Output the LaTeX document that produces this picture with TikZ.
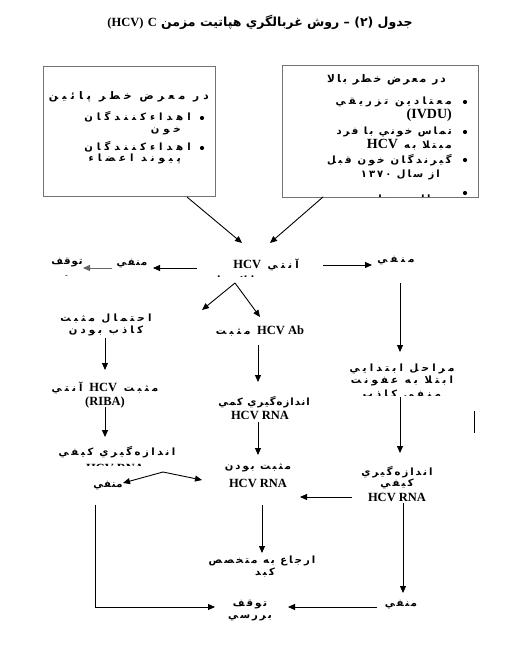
\documentclass[tikz,border=0pt]{standalone}
\usepackage{fontspec}
\setmainfont{Liberation Serif}
\usetikzlibrary{arrows.meta}
\TeXXeTstate=1
\newfontfamily\faA[Script=Arabic,LetterSpace=5]{DejaVu Sans}
\newfontfamily\faB[Script=Arabic,LetterSpace=10]{DejaVu Sans}
\newfontfamily\faC[Script=Arabic,LetterSpace=15]{DejaVu Sans}
\newfontfamily\faD[Script=Arabic,LetterSpace=20]{DejaVu Sans}
\newfontfamily\faE[Script=Arabic,LetterSpace=25]{DejaVu Sans}
\newfontfamily\faF[Script=Arabic,LetterSpace=32]{DejaVu Sans}
\newfontfamily\faG[Script=Arabic,LetterSpace=40]{DejaVu Sans}
\newfontfamily\fat[Script=Arabic]{DejaVu Sans}
\newcommand\rtl[1]{\beginR #1\endR}
\newcommand\ltr[1]{\beginL #1\endL}
\newcommand\la[1]{{\rmfamily\bfseries\fontsize{12.5}{14}\selectfont\beginL #1\endL}}
\newcommand\lab[1]{{\rmfamily\bfseries\fontsize{14}{15}\selectfont\beginL #1\endL}}
\begin{document}
\begin{tikzpicture}[x=1pt,y=-1pt,
  fa/.style={font=\faF\bfseries\fontsize{10}{11}\selectfont, inner sep=0pt},
  fa5/.style={font=\faA\bfseries\fontsize{10}{11}\selectfont, inner sep=0pt},
  fa10/.style={font=\faB\bfseries\fontsize{10}{11}\selectfont, inner sep=0pt},
  fa15/.style={font=\faC\bfseries\fontsize{10}{11}\selectfont, inner sep=0pt},
  fa20/.style={font=\faD\bfseries\fontsize{10}{11}\selectfont, inner sep=0pt},
  fa25/.style={font=\faE\bfseries\fontsize{10}{11}\selectfont, inner sep=0pt},
  fa40/.style={font=\faG\bfseries\fontsize{10}{11}\selectfont, inner sep=0pt},
  hdl/.style={font=\faG\bfseries\fontsize{10.5}{12}\selectfont, inner sep=0pt},
  hdr/.style={font=\faD\bfseries\fontsize{10.5}{12}\selectfont, inner sep=0pt},
  arr/.style={-{Triangle[length=7pt,width=6pt]}, line width=0.9pt},
  plain/.style={line width=0.9pt},
  box/.style={draw=black!55, line width=0.9pt},
  dot/.style={fill=black, circle, inner sep=0pt, minimum size=4.2pt}]
\useasboundingbox (0,0) rectangle (519,645);

% title
\node[font=\fat\bfseries\fontsize{12.5}{14}\selectfont, inner sep=0pt] (title) at (260,22)
  {\rtl{جدول \ltr{(۲)} – روش غربالگري هپاتيت مزمن \la{C} \la{(HCV)}}};

% boxes
\node[box, minimum width=172pt, minimum height=130pt, inner sep=0pt] (boxL) at (129,131) {};
\node[box, minimum width=196pt, minimum height=132pt, inner sep=0pt] (boxR) at (380,131) {};

% left box contents
\node[hdl, anchor=east] (hdrL) at (209,97) {\rtl{در معرض خطر پائين}};
\node[dot] (bL1) at (202,118) {};
\node[dot] (bL2) at (202,148) {};
\node[fa40, anchor=east] (L1a) at (191,117) {\rtl{اهداءكنندگان}};
\node[fa40, anchor=east] (L1b) at (181,131) {\rtl{خون}};
\node[fa40, anchor=east] (L2a) at (191,147) {\rtl{اهداءكنندگان}};
\node[fa40, anchor=east] (L2b) at (181,159) {\rtl{پيوند اعضاء}};

% right box contents
\node[hdr, anchor=east] (hdrR) at (446,80) {\rtl{در معرض خطر بالا}};
\node[dot] (bR1) at (465,102) {};
\node[dot] (bR2) at (465,132) {};
\node[dot] (bR3) at (465,160) {};
\node[dot] (bR4) at (465,193) {};
\node[fa, anchor=east] (R1a) at (452,102) {\rtl{معتادين تزريقي}};
\node[fa, anchor=east] (R1b) at (452,115) {\lab{(IVDU)}};
\node[fa20, anchor=east] (R2a) at (452,132) {\rtl{تماس خوني با فرد}};
\node[fa25, anchor=east] (R2b) at (452,145) {\rtl{مبتلا به \lab{HCV}}};
\node[fa25, anchor=east] (R3a) at (452,160) {\rtl{گيرندگان خون قبل}};
\node[fa20, anchor=east] (R3b) at (440,175) {\rtl{از سال \ltr{۱۳۷۰}}};
\begin{scope}
  \clip (300,184) rectangle (455,196);
  \node[fa25, anchor=east] (R4a) at (445,200) {\rtl{دياليزي‌ها}};
\end{scope}

% flow nodes
\node[fa] (anti) at (266,265) {\rtl{آنتي \la{HCV}}};
\begin{scope}
  \clip (200,271) rectangle (330,276);
  \node[fa] (antiB) at (265,281) {\rtl{به روش الايزا}};
\end{scope}
\node[fa] (negR) at (396,261) {\rtl{منفي}};
\node[fa10] (negL) at (132,264) {\rtl{منفي}};
\node[fa10] (stopL) at (67,263) {\rtl{توقف}};
\begin{scope}
  \clip (40,271) rectangle (100,275);
  \node[fa10] (stopLB) at (67,279) {\rtl{بررسي}};
\end{scope}
\node[fa] (fp1) at (106,319) {\rtl{احتمال مثبت}};
\node[fa] (fp2) at (106,331) {\rtl{كاذب بودن}};
\node[fa] (ab) at (260,331) {\rtl{\la{HCV Ab} مثبت}};
\node[fa] (early1) at (402,369) {\rtl{مراحل ابتدايي}};
\node[fa] (early2) at (402,381) {\rtl{ابتلا به عفونت}};
\begin{scope}
  \clip (330,386) rectangle (480,395);
  \node[fa] (early3) at (402,395) {\rtl{منفي كاذب}};
\end{scope}
\node[fa] (riba1) at (105,388) {\rtl{مثبت \la{HCV} آنتي}};
\node[fa] (riba2) at (105,402) {\la{(RIBA)}};
\node[fa10] (qty1) at (264,402) {\rtl{اندازه‌گيري كمي}};
\node[fa] (qty2) at (260,415) {\la{HCV RNA}};
\node[fa25] (qualL1) at (117,452) {\rtl{اندازه‌گيري كيفي}};
\begin{scope}
  \clip (50,458) rectangle (170,465);
  \node[fa] (qualL2) at (115,468) {\la{HCV RNA}};
\end{scope}
\node[fa5] (negL2) at (108,486) {\rtl{منفي}};
\node[fa20] (pos1) at (258,468) {\rtl{مثبت بودن}};
\node[fa] (pos2) at (258,483) {\la{HCV RNA}};
\node[fa20] (qualR1) at (397,472) {\rtl{اندازه‌گيري}};
\node[fa20] (qualR2) at (397,484) {\rtl{كيفي}};
\node[fa] (qualR3) at (397,497) {\la{HCV RNA}};
\node[fa20] (refer1) at (262,561) {\rtl{ارجاع به متخصص}};
\node[fa20] (refer2) at (265,573) {\rtl{كبد}};
\node[fa20] (stop1) at (250,605) {\rtl{توقف}};
\node[fa20] (stop2) at (250,618) {\rtl{بررسي}};
\node[fa15] (negB) at (401,605) {\rtl{منفي}};

% connector end points
\coordinate (cL0) at (187,197); \coordinate (cL1) at (242,243);
\coordinate (cR0) at (323,197); \coordinate (cR1) at (270,243);
\coordinate (a3s) at (197,268); \coordinate (a3e) at (153,268);
\coordinate (a4s) at (112,268); \coordinate (a4e) at (83,268);
\coordinate (a5s) at (323,265); \coordinate (a5e) at (372,265);
\coordinate (a6s) at (235,283); \coordinate (a6e) at (202,310);
\coordinate (a7e) at (260,317);
\coordinate (a8s) at (105,338); \coordinate (a8e) at (105,370);
\coordinate (a9s) at (105,407); \coordinate (a9e) at (105,437);
\coordinate (a10s) at (163,472); \coordinate (a10e) at (123,483);
\coordinate (a11e) at (202,480);
\coordinate (a12s) at (258,345); \coordinate (a12e) at (258,382);
\coordinate (a13s) at (258,422); \coordinate (a13e) at (258,455);
\coordinate (a14s) at (400,283); \coordinate (a14e) at (400,352);
\coordinate (a15s) at (400,397); \coordinate (a15e) at (400,453);
\coordinate (a16s) at (352,497); \coordinate (a16e) at (300,497);
\coordinate (a17s) at (262,505); \coordinate (a17e) at (262,553);
\coordinate (a18s) at (403,503); \coordinate (a18e) at (403,593);
\coordinate (a19s) at (377,607); \coordinate (a19e) at (288,607);
\coordinate (a20s) at (95,505); \coordinate (a20m) at (95,607); \coordinate (a20e) at (215,607);
\coordinate (m1) at (474,411); \coordinate (m2) at (474,433);

\draw[arr] (cL0) -- (cL1);
\draw[arr] (cR0) -- (cR1);
\draw[arr] (a3s) -- (a3e);
\draw[arr, draw=black!60, fill=black] (a4s) -- (a4e);
\draw[arr] (a5s) -- (a5e);
\draw[arr] (a6s) -- (a6e);
\draw[arr] (a6s) -- (a7e);
\draw[arr] (a8s) -- (a8e);
\draw[arr] (a9s) -- (a9e);
\draw[arr] (a10s) -- (a10e);
\draw[arr] (a10s) -- (a11e);
\draw[arr] (a12s) -- (a12e);
\draw[arr] (a13s) -- (a13e);
\draw[arr] (a14s) -- (a14e);
\draw[arr] (a15s) -- (a15e);
\draw[arr] (a16s) -- (a16e);
\draw[arr] (a17s) -- (a17e);
\draw[arr] (a18s) -- (a18e);
\draw[arr] (a19s) -- (a19e);
\draw[arr] (a20s) -- (a20m) -- (a20e);
\draw[plain] (m1) -- (m2);
\end{tikzpicture}
\end{document}
